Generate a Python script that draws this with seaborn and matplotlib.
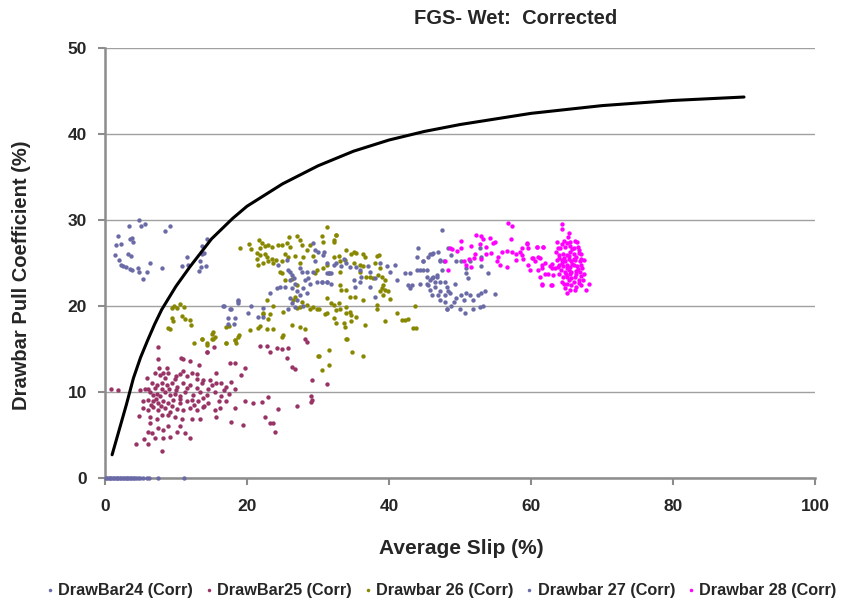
import matplotlib
matplotlib.use("Agg")
import matplotlib.pyplot as plt
import seaborn as sns
import pandas as pd

# ---------------- data ----------------
curve_x = [1, 2, 3, 4, 5, 6, 7, 8, 10, 12, 15, 18, 20, 25, 30, 35, 40, 45, 50, 60, 70, 80, 90]
curve_y = [2.7, 5.6, 8.5, 11.6, 14.0, 16.0, 17.9, 19.6, 22.3, 24.6, 27.8, 30.2, 31.6, 34.2,
           36.3, 38.0, 39.3, 40.3, 41.1, 42.4, 43.3, 43.9, 44.3]

pts24 = [(4.8, 30.0), (3.4, 29.3), (5.1, 29.3), (5.7, 29.5), (9.2, 29.3), (8.5, 28.7), (1.8, 28.1),
         (1.5, 27.1), (2.3, 27.2), (3.5, 27.8), (3.8, 27.9), (3.9, 27.4), (1.4, 25.9), (3.2, 26.1),
         (3.7, 25.8), (2.0, 25.3), (2.2, 24.8), (2.6, 24.6), (2.9, 24.5), (3.5, 24.3), (3.8, 24.2),
         (4.7, 24.4), (4.8, 24.0), (5.9, 24.0), (6.4, 25.0), (8.0, 24.4), (5.4, 23.1), (14.3, 27.8),
         (13.6, 27.0), (13.9, 26.2), (13.7, 26.1), (11.6, 25.7), (11.7, 24.8), (10.9, 24.6),
         (13.4, 25.2), (13.5, 24.5), (14.2, 24.6), (13.2, 24.1),
         (0.1, 0.0), (0.3, 0.0), (0.5, 0.0), (0.7, 0.0), (0.9, 0.0), (1.1, 0.0), (1.3, 0.0), (1.5, 0.0),
         (1.7, 0.0), (1.9, 0.0), (2.1, 0.0), (2.3, 0.0), (2.5, 0.0), (2.7, 0.0), (2.9, 0.0), (3.1, 0.0),
         (3.3, 0.0), (3.5, 0.0), (3.7, 0.0), (3.9, 0.0), (4.1, 0.0), (4.3, 0.0), (4.6, 0.0), (4.9, 0.0),
         (5.4, 0.0), (5.9, 0.0), (6.2, 0.0), (7.4, 0.0), (11.1, 0.0)]

pts25 = [(0.9, 10.4), (1.9, 10.2), (7.5, 15.2), (7.5, 13.8), (10.7, 14.0), (11.0, 13.8), (12.0, 13.6),
         (14.3, 14.6), (17.6, 13.4), (18.3, 13.4), (19.7, 12.8), (19.1, 12.0), (13.2, 13.1), (8.7, 12.8),
         (7.6, 12.8), (7.0, 12.2), (7.7, 12.0), (8.2, 12.2), (8.9, 12.2), (10.0, 11.9), (10.6, 12.1),
         (11.5, 11.9), (12.3, 12.2), (12.9, 12.1), (13.8, 11.4), (14.8, 11.4), (15.7, 12.2), (16.4, 11.0),
         (17.8, 11.2), (5.9, 11.6), (6.6, 11.0), (7.3, 10.8), (8.0, 11.1), (8.7, 10.8), (9.4, 11.0),
         (10.1, 10.6), (11.0, 11.0), (12.0, 10.8), (12.9, 10.5), (13.6, 11.0), (15.0, 10.8), (15.7, 11.0),
         (17.1, 10.6), (18.3, 10.4), (4.9, 10.2), (5.6, 10.4), (6.3, 10.0), (6.8, 9.7), (7.3, 9.8),
         (7.7, 9.5), (8.5, 10.0), (9.2, 9.7), (9.9, 9.8), (10.6, 9.5), (11.3, 10.0), (12.4, 9.7),
         (13.4, 10.0), (14.3, 9.7), (15.5, 10.0), (16.4, 9.5), (17.4, 9.8), (5.4, 8.9), (6.1, 9.1),
         (6.8, 8.9), (7.5, 8.7), (8.2, 9.0), (8.9, 8.7), (9.6, 9.1), (10.6, 8.7), (11.5, 8.9), (12.2, 9.1),
         (13.1, 8.9), (13.8, 9.3), (14.5, 8.7), (17.1, 8.9), (19.7, 8.9), (5.4, 8.1), (6.1, 7.9),
         (6.8, 8.3), (7.5, 7.9), (8.5, 8.1), (9.2, 7.7), (10.1, 8.0), (11.0, 7.9), (12.0, 8.1), (12.9, 7.9),
         (13.8, 8.3), (15.5, 7.9), (16.2, 8.1), (18.3, 8.1), (6.3, 7.1), (7.3, 6.9), (8.0, 7.3), (8.9, 7.3),
         (9.9, 7.1), (10.8, 6.9), (12.2, 6.9), (13.4, 6.9), (15.6, 7.1), (4.8, 7.2), (6.3, 6.4), (7.5, 5.8),
         (8.9, 6.0), (10.6, 6.0), (17.8, 6.5), (19.5, 6.2), (6.1, 5.4), (6.6, 5.2), (8.2, 5.6), (9.2, 4.8),
         (10.1, 5.4), (11.3, 5.2), (12.0, 4.6), (5.5, 4.5), (7.0, 4.6), (8.2, 4.6), (4.4, 4.0), (6.1, 4.0),
         (8.0, 3.1), (21.8, 15.3), (22.8, 15.3), (24.2, 15.1), (24.9, 15.0), (23.2, 14.6), (25.6, 13.9),
         (26.3, 12.9), (26.8, 12.7), (20.9, 8.7), (22.1, 8.8), (23.0, 9.4), (24.3, 8.0), (27.0, 8.4),
         (22.5, 7.1), (23.2, 6.4), (23.6, 6.4), (24.0, 5.3), (15.4, 15.2), (14.3, 14.6), (25.8, 15.1),
         (28.1, 16.2), (28.4, 15.8), (29.1, 11.4), (31.2, 10.9), (29.0, 9.5), (29.2, 9.1), (29.0, 8.8),
         (7.0, 10.5), (8.0, 10.3), (9.0, 10.4), (10.0, 10.2), (11.5, 10.5), (6.5, 8.5), (7.9, 8.4),
         (9.5, 8.4), (10.5, 9.2), (12.5, 8.5), (14.0, 8.4), (16.0, 9.0), (8.5, 11.6), (9.8, 11.5),
         (11.0, 12.5), (13.0, 11.5), (14.5, 10.3), (16.8, 10.2), (6.0, 10.3), (7.2, 9.2)]

pts26 = [(9.4, 19.8), (9.7, 20.0), (10.2, 19.8), (10.5, 20.2), (11.1, 19.9), (10.9, 18.8), (11.3, 18.5),
         (9.4, 18.6), (9.6, 18.2), (12.0, 18.4), (12.1, 17.8), (8.9, 17.4), (9.2, 17.3), (12.6, 15.7),
         (13.6, 16.2), (14.3, 15.7), (15.0, 16.8), (15.2, 16.2), (15.5, 16.4), (17.1, 17.6), (17.0, 15.7),
         (18.3, 16.0), (18.5, 15.7), (18.8, 16.4),
         (19.0, 26.8), (20.3, 27.2), (20.6, 26.6), (21.4, 26.2), (21.8, 26.7), (21.7, 27.7), (22.1, 27.3),
         (22.5, 27.0), (23.0, 27.1), (23.5, 26.9), (24.4, 27.1), (24.9, 27.1), (25.6, 27.3), (25.9, 28.0),
         (26.1, 26.9), (27.0, 28.1), (27.5, 27.7), (27.7, 27.1), (21.4, 25.5), (21.8, 25.9), (22.5, 26.1),
         (22.8, 25.7), (23.0, 25.2), (23.5, 25.5), (23.7, 25.0), (24.1, 25.4), (21.6, 24.8), (22.3, 25.0),
         (25.4, 26.1), (25.8, 25.7), (26.8, 25.8), (24.9, 25.2), (24.6, 24.0), (24.9, 23.8), (25.4, 23.0),
         (26.3, 23.1), (27.5, 25.0), (27.9, 25.7), (28.4, 26.5), (28.9, 27.1), (29.3, 25.8), (29.8, 24.2),
         (29.6, 23.8), (27.0, 22.4), (26.8, 21.1), (26.5, 20.7), (27.0, 19.8), (27.5, 19.9), (27.8, 20.5),
         (28.4, 20.1), (28.9, 19.7), (29.3, 19.9), (29.8, 19.6), (30.2, 19.7), (31.0, 19.1), (22.8, 20.7),
         (22.3, 19.2), (23.2, 19.1), (23.0, 18.5), (21.8, 17.7), (21.6, 17.5), (22.8, 17.3), (23.7, 17.3),
         (25.0, 19.3), (23.7, 20.0), (26.3, 17.8), (27.4, 17.6), (28.2, 17.3), (24.9, 16.4), (25.0, 16.6),
         (20.4, 17.2), (17.4, 17.7), (18.3, 16.0), (18.9, 16.6), (17.1, 15.7), (15.2, 17.0), (15.0, 16.2),
         (13.6, 16.2), (30.0, 14.2), (14.4, 15.5),
         (32.6, 28.3), (32.2, 27.7), (32.3, 27.4), (30.5, 28.1), (30.7, 27.4), (34.0, 26.5), (34.7, 26.0),
         (35.0, 26.3), (35.4, 26.2), (36.4, 26.1), (36.6, 25.7), (38.3, 25.8), (38.6, 25.9), (32.2, 25.7),
         (32.9, 25.8), (33.1, 25.2), (33.8, 25.3), (35.0, 25.0), (35.9, 24.8), (36.4, 24.6), (38.0, 25.0),
         (38.7, 24.4), (30.7, 24.4), (31.3, 24.8), (31.5, 23.8), (33.1, 24.0), (35.9, 24.0), (36.8, 23.4),
         (37.3, 23.4), (37.8, 23.2), (38.5, 23.6), (39.0, 23.4), (39.4, 23.0), (39.2, 22.4), (39.0, 22.1),
         (38.7, 21.7), (39.4, 21.9), (39.2, 21.3), (39.9, 21.7), (33.1, 22.4), (33.3, 21.9), (34.0, 21.9),
         (34.5, 21.1), (35.2, 21.1), (36.4, 20.7), (40.1, 20.8), (31.2, 20.9), (31.9, 20.3), (32.2, 20.1),
         (33.0, 20.4), (31.2, 19.2), (32.6, 19.5), (33.1, 19.7), (34.0, 19.9), (34.5, 19.3), (34.7, 19.0),
         (34.0, 19.2), (35.4, 18.7), (32.2, 18.6), (32.6, 18.0), (33.8, 17.6), (33.6, 18.0), (34.7, 18.2),
         (36.6, 17.8), (38.3, 20.1), (38.3, 19.7), (39.4, 18.3), (41.1, 19.2), (41.8, 18.4), (42.3, 18.4),
         (42.7, 18.5), (43.4, 17.5), (43.8, 17.4), (43.6, 20.0), (34.0, 16.2),
         (34.1, 16.2), (34.8, 14.6), (36.4, 14.2), (30.1, 14.2), (31.6, 14.9), (30.5, 12.6), (31.5, 13.1),
         (31.2, 29.2), (32.6, 28.2), (22.2, 19.1)]

pts27 = [(16.6, 20.0), (17.6, 19.7), (18.7, 20.6),
         (24.4, 24.8), (25.8, 24.2), (26.1, 23.9), (26.3, 23.6), (26.6, 23.2), (26.0, 23.0), (26.8, 22.6),
         (27.5, 24.4), (27.7, 23.9), (28.4, 24.0), (28.2, 23.0), (28.6, 23.2), (28.9, 22.6), (29.3, 23.9),
         (29.6, 26.5), (30.0, 26.3), (29.3, 27.3), (29.6, 25.2), (30.7, 25.9), (29.8, 22.8), (30.5, 22.8),
         (31.2, 22.8), (25.6, 25.4), (25.4, 22.2), (26.3, 22.1), (27.0, 21.7), (27.9, 22.1), (28.4, 21.5),
         (24.6, 22.2), (24.2, 22.1), (26.1, 20.9), (26.3, 20.4), (27.0, 20.7), (27.5, 21.3), (27.9, 20.0),
         (26.8, 19.9), (25.8, 19.7), (23.2, 21.5), (18.8, 20.7), (18.8, 20.4), (16.7, 20.0), (17.7, 19.7),
         (20.6, 20.0), (20.2, 19.2), (22.2, 19.8), (21.5, 18.7), (22.3, 18.7), (17.3, 18.6), (18.3, 18.6),
         (18.2, 17.9), (17.3, 17.9), (31.5, 23.8),
         (30.8, 26.3), (31.2, 25.0), (32.2, 24.8), (32.6, 25.0), (31.2, 23.8), (31.9, 23.8), (30.5, 22.8),
         (31.2, 22.8), (31.9, 22.6), (33.6, 25.5), (34.0, 25.0), (33.3, 24.6), (34.5, 24.5), (35.4, 24.5),
         (35.9, 24.2), (36.1, 23.4), (37.1, 24.6), (37.3, 23.9), (38.0, 23.2), (38.7, 25.0), (39.7, 24.6),
         (40.1, 24.0), (40.8, 24.8), (35.0, 23.0), (35.9, 22.8), (35.2, 22.2), (37.3, 22.2), (38.0, 21.1),
         (41.1, 23.0), (42.3, 23.8), (43.0, 23.8), (42.7, 22.4), (43.2, 22.4), (43.0, 22.1), (43.9, 24.2),
         (44.4, 24.2), (44.8, 24.2), (44.1, 26.7), (44.0, 25.7), (44.8, 25.2), (45.5, 25.7), (46.0, 26.1),
         (44.4, 22.6), (45.3, 23.4), (45.3, 22.6), (45.8, 23.0), (46.2, 23.4), (46.7, 23.6), (46.5, 22.8),
         (45.8, 21.9), (46.0, 21.3), (46.9, 21.3), (47.2, 20.7), (47.9, 20.5), (48.1, 19.6), (47.2, 25.2),
         (47.4, 24.2), (48.1, 22.2), (48.3, 21.7),
         (47.5, 28.8), (44.8, 25.2), (45.8, 26.1), (46.2, 26.2), (46.9, 26.3), (47.2, 25.3), (47.7, 25.2),
         (48.3, 26.7), (48.8, 25.9), (49.5, 25.2), (50.2, 25.2), (50.9, 24.4), (51.4, 25.2), (52.8, 26.7),
         (53.0, 25.7), (53.0, 24.6), (50.9, 23.8), (51.1, 23.2), (54.0, 23.8), (45.3, 24.2), (46.0, 23.2),
         (46.7, 23.4), (47.2, 22.8), (45.5, 22.4), (46.5, 22.2), (47.9, 22.8), (49.3, 22.6), (47.2, 21.7),
         (47.9, 21.3), (48.6, 21.5), (49.5, 20.9), (50.2, 21.3), (50.9, 21.5), (51.4, 21.3), (51.9, 20.7),
         (52.6, 21.3), (53.0, 21.5), (53.5, 21.7), (54.9, 21.4), (49.1, 20.5), (50.5, 20.7), (48.1, 19.7),
         (48.8, 20.0), (50.0, 19.7), (50.7, 19.2), (52.8, 19.9), (53.3, 20.0), (51.9, 19.7)]

pts28 = [(56.7, 29.7), (57.3, 29.3), (52.3, 28.3), (53.0, 28.1), (53.3, 27.8), (54.2, 27.9), (54.6, 27.3),
         (54.9, 27.5), (50.2, 27.6), (51.6, 27.0), (52.8, 27.2), (53.7, 26.9), (57.2, 27.8), (59.4, 27.2),
         (59.6, 26.8), (60.8, 26.9), (61.7, 26.9), (48.6, 26.8), (48.9, 26.6), (50.2, 26.7), (52.1, 26.1),
         (53.0, 25.5), (53.7, 26.0), (54.4, 26.2), (55.4, 25.7), (55.9, 26.3), (56.6, 26.4), (57.3, 26.3),
         (57.9, 26.1), (58.5, 26.3), (58.7, 25.9), (60.1, 25.6), (61.0, 25.7), (51.3, 25.5), (52.0, 25.6),
         (50.5, 25.2), (50.9, 24.8), (51.6, 24.5), (55.2, 25.2), (55.6, 24.8), (56.6, 24.5), (57.9, 25.3),
         (58.9, 25.5), (59.6, 24.8), (60.6, 25.2), (61.5, 24.8), (59.9, 24.2), (61.3, 23.4), (62.0, 23.7),
         (62.4, 23.7), (61.6, 22.5), (62.9, 22.4), (62.9, 24.4), (48.3, 24.2), (49.6, 26.4), (47.9, 25.2),
         (64.4, 29.5), (64.4, 29.0), (65.4, 28.5), (64.7, 27.6), (65.5, 27.5), (66.2, 27.6), (66.5, 27.4),
         (63.5, 26.3), (64.1, 26.7), (64.8, 26.9), (65.5, 27.0), (66.0, 26.7), (66.8, 26.5), (64.0, 25.9),
         (64.5, 26.1), (65.0, 25.9), (65.5, 26.3), (66.0, 26.0), (66.4, 25.7), (67.1, 26.0), (63.7, 25.3),
         (64.3, 25.3), (64.8, 25.2), (65.3, 25.5), (65.7, 25.2), (66.2, 25.3), (66.9, 25.2), (67.4, 25.3),
         (64.0, 24.8), (64.5, 24.6), (65.0, 24.8), (65.5, 24.5), (66.0, 24.8), (66.5, 24.6), (67.1, 24.8),
         (64.2, 24.2), (64.8, 24.0), (65.3, 24.2), (65.7, 23.9), (66.3, 24.1), (66.9, 23.9), (67.4, 23.7),
         (64.5, 23.4), (65.1, 23.4), (65.7, 23.2), (66.2, 23.4), (66.7, 23.0), (67.3, 23.0), (68.1, 22.6),
         (64.3, 22.8), (65.0, 22.6), (65.7, 22.5), (66.4, 22.2), (67.1, 22.4), (64.8, 22.1), (65.5, 21.9),
         (66.2, 21.9), (65.0, 21.5), (67.8, 21.9), (61.6, 22.6), (62.8, 22.4), (63.1, 23.6), (63.4, 24.4),
         (59.4, 27.3), (60.8, 26.9), (61.7, 26.9), (58.7, 26.7), (60.3, 25.6), (61.3, 25.6), (62.0, 25.0),
         (61.0, 24.2), (61.5, 24.4), (62.7, 24.6), (62.9, 24.9),
         (63.8, 26.8), (64.3, 27.2), (65.0, 27.3), (65.8, 26.6), (66.6, 26.9), (63.9, 25.6), (64.6, 25.6),
         (65.3, 25.8), (66.1, 25.5), (66.7, 26.2), (67.0, 25.5), (63.8, 24.5), (64.4, 25.0), (65.1, 24.4),
         (65.8, 24.9), (66.6, 24.3), (67.2, 24.4), (64.0, 23.7), (64.9, 23.7), (65.5, 23.7), (66.4, 23.7),
         (67.0, 23.5), (64.6, 22.6), (65.3, 23.0), (66.0, 22.8), (66.8, 22.7), (63.6, 27.4), (65.2, 28.0)]

labels = ["DrawBar24 (Corr)", "DrawBar25 (Corr)", "Drawbar 26 (Corr)",
          "Drawbar 27 (Corr)", "Drawbar 28 (Corr)"]
colors = ["#6a6aa6", "#993366", "#878700", "#6a6aa6", "#ff00ff"]

# ---------------- plotting ----------------
sns.set_theme(style="white")
plt.rcParams["font.family"] = ["Liberation Sans", "DejaVu Sans"]
plt.rcParams["font.weight"] = "bold"

fig = plt.figure(figsize=(8.48, 6.03), dpi=100)
ax = fig.add_axes([105 / 848, 1 - 478 / 603, (815 - 105) / 848, (478 - 48) / 603])

for pts, lab, col in zip([pts24, pts25, pts26, pts27, pts28], labels, colors):
    df = pd.DataFrame(pts, columns=["x", "y"])
    sns.scatterplot(data=df, x="x", y="y", ax=ax, color=col, s=10, linewidth=0,
                    label=lab, zorder=3, clip_on=False)

cdf = pd.DataFrame({"x": curve_x, "y": curve_y})
sns.lineplot(data=cdf, x="x", y="y", ax=ax, color="black", linewidth=2.2, zorder=4,
             legend=False)

ax.set_xlim(0, 100)
ax.set_ylim(0, 50)
ax.set_xticks([0, 20, 40, 60, 80, 100])
ax.set_yticks([0, 10, 20, 30, 40, 50])
ax.yaxis.grid(True, color="#a0a0a0", linewidth=1.0)
ax.xaxis.grid(False)
ax.set_axisbelow(True)
for side in ["top", "right"]:
    ax.spines[side].set_visible(False)
for side in ["left", "bottom"]:
    ax.spines[side].set_color("#8c8c8c")
    ax.spines[side].set_linewidth(1.8)
ax.tick_params(axis="both", which="major", direction="out", length=5, width=1.5,
               color="#8c8c8c", labelsize=12.5, left=True, bottom=True)
ax.tick_params(axis="x", pad=10)
ax.tick_params(axis="y", pad=8)
for t in ax.get_xticklabels() + ax.get_yticklabels():
    t.set_fontweight("bold")

ax.set_xlabel("Average Slip (%)", fontsize=15, fontweight="bold")
ax.xaxis.set_label_coords(461 / 848, 1 - 548 / 603, transform=fig.transFigure)
ax.set_ylabel("Drawbar Pull Coefficient (%)", fontsize=14.5, fontweight="bold")
ax.yaxis.set_label_coords(22 / 848, 1 - 275 / 603, transform=fig.transFigure)
ax.xaxis.label.set_va("center")
ax.yaxis.label.set_va("center")

fig.text(516 / 848, 1 - 18 / 603, "FGS- Wet:  Corrected", ha="center", va="center",
         fontsize=14.5, fontweight="bold")

handles, labs = ax.get_legend_handles_labels()
ax.legend_.remove()
fig.legend(handles, labs, loc="center", bbox_to_anchor=(439 / 848, 1 - 590 / 603), ncol=5,
           frameon=False, markerscale=0.8, handletextpad=0.0, borderaxespad=0.0,
           borderpad=0.0, columnspacing=0.5, handlelength=1.0,
           prop={"weight": "bold", "size": 11.7})

fig.savefig("out.png", dpi=100)
